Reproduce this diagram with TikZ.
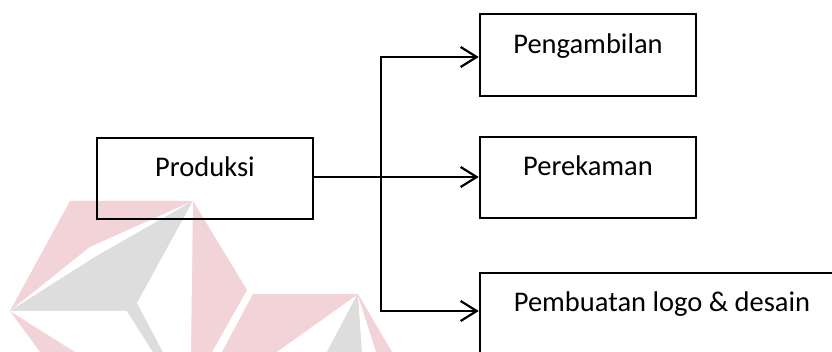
\documentclass[tikz,border=0pt]{standalone}
\usepackage{fontspec}
\setmainfont{Carlito}
\usetikzlibrary{arrows.meta}
\definecolor{wmpink}{RGB}{242,212,216}
\definecolor{wmgray}{RGB}{221,221,221}
\tikzset{
  box/.style={draw=black, line width=2.6pt, rectangle, inner sep=0pt,
    font=\fontsize{28.5}{34}\selectfont, text height=18pt, text depth=21pt},
  conn/.style={draw=black, line width=2.2pt},
  arr/.style={conn, -{Straight Barb[length=16pt,width=20pt,line width=2.2pt]}},
}
\begin{document}
\begin{tikzpicture}[x=1pt,y=-1pt]
\useasboundingbox (0,0) rectangle (832,352);
\clip (0,0) rectangle (832,352);
\fill[white] (0,0) rectangle (832,352);
% watermark
\fill[wmpink] (70,201) -- (193,201) -- (247,290) -- (212,352) -- (40,352) -- (10,311) -- cycle;
\fill[white] (10,311) -- (90,247) -- (193,201) -- (95,257) -- cycle;
\fill[wmgray] (10,311) -- (95,257) -- (193,201) -- (136,303) -- (127,311) -- cycle;
\fill[white] (10,311) -- (127,311) -- (153,352) -- (75,352) -- cycle;
\fill[wmgray] (127,311) -- (137,303) -- (163,352) -- (153,352) -- cycle;
\fill[white] (193,201) -- (137,303) -- (163,352) -- (191,352) -- cycle;
\fill[wmpink] (253,294) -- (358,294) -- (392,352) -- (222,352) -- cycle;
\fill[white] (357,295) -- (277,352) -- (327,352) -- cycle;
\fill[wmgray] (357,295) -- (327,352) -- (362,352) -- cycle;
\fill[white] (358,296) -- (362,352) -- (376,352) -- cycle;
% boxes
\node[box, minimum width=216pt, minimum height=81pt] (prod) at (205,178.5) {Produksi};
\node[box, minimum width=216pt, minimum height=82pt] (peng) at (588,55) {Pengambilan};
\node[box, minimum width=216pt, minimum height=81pt] (perek) at (588,177.5) {Perekaman};
\node[box, minimum width=364pt, minimum height=81pt] (pemb) at (662,313.5) {Pembuatan logo \& desain};
% connectors
\coordinate (j) at (381,180);
\draw[arr] ([yshift=1.5pt]prod.east) -- ([yshift=1.5pt]prod.east -| perek.west);
\draw[arr] (j) |- ([yshift=-2pt]peng.west);
\draw[arr] (j) |- ([yshift=2.5pt]pemb.west);
\end{tikzpicture}
\end{document}
